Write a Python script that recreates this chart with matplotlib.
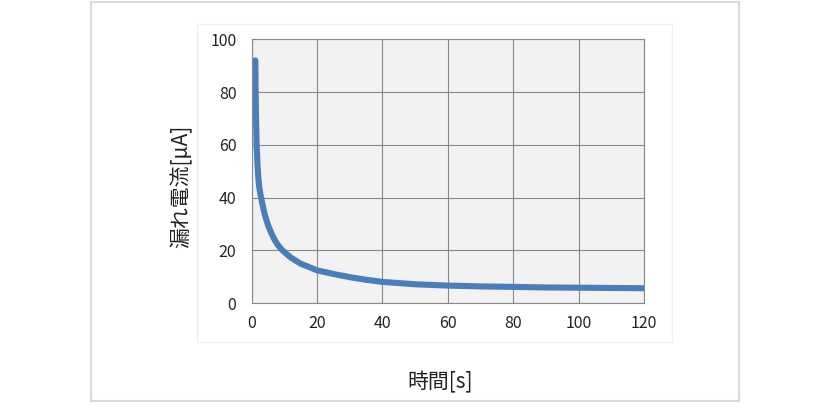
import matplotlib
matplotlib.use("Agg")
import matplotlib.pyplot as plt
from matplotlib.patches import Rectangle

plt.rcParams['font.family'] = ['Noto Sans CJK JP', 'DejaVu Sans']

# leakage current
time_s = [1.1, 1.2, 1.3, 1.5, 1.75, 2, 2.3, 2.7, 3.2, 4, 5, 6, 7, 8, 9, 10,
          12, 15, 20, 25, 30, 35, 40, 50, 60, 70, 80, 90, 100, 110, 120]
leak_uA = [92, 80, 72, 60, 53, 48, 44, 41, 38, 33.5, 29.5, 26.5, 24, 22, 20.5, 19.3,
           17.2, 14.9, 12.4, 11, 9.8, 8.8, 8.0, 7.1, 6.6, 6.3, 6.1, 5.9, 5.8, 5.7, 5.6]
x_ticks = [0, 20, 40, 60, 80, 100, 120]
y_ticks = [0, 20, 40, 60, 80, 100]

W, H = 832, 407
fig = plt.figure(figsize=(W / 100, H / 100), dpi=100)

# outer frame and inner chart area
fig.patches.append(Rectangle((91 / W, 1 - 401 / H), (739 - 91) / W, (401 - 2) / H,
                             transform=fig.transFigure, fill=False,
                             edgecolor='#d9d9d9', linewidth=1.5))
fig.patches.append(Rectangle((197 / W, 1 - 342 / H), (672 - 197) / W, (342 - 24) / H,
                             transform=fig.transFigure, fill=False,
                             edgecolor='#efefef', linewidth=1.0))

ax = fig.add_axes([251.7 / W, 1 - 303 / H, (644 - 251.7) / W, (303 - 39.3) / H])
ax.set_facecolor('#f2f2f2')
ax.plot(time_s, leak_uA, color='#4a7ebb', linewidth=4.4, solid_capstyle='round',
        solid_joinstyle='round')

ax.set_xlim(0, 120)
ax.set_ylim(0, 100)
ax.set_xticks(x_ticks)
ax.set_yticks(y_ticks)
ax.grid(True, color='#888888', linewidth=0.8)
ax.set_axisbelow(True)
for s in ax.spines.values():
    s.set_color('#888888')
    s.set_linewidth(0.8)
ax.tick_params(length=0, labelsize=11.5, labelcolor='#222222')
ax.tick_params(axis='y', pad=11)
ax.tick_params(axis='x', pad=9)

fig.text(440 / W, 1 - 382 / H, '時間[s]', fontsize=15, ha='center', va='center',
         color='#222222')
fig.text(181 / W, 1 - 186 / H, '漏れ電流[μA]', fontsize=15, ha='center', va='center',
         rotation=90, color='#222222')

fig.savefig('out.png', dpi=100)
